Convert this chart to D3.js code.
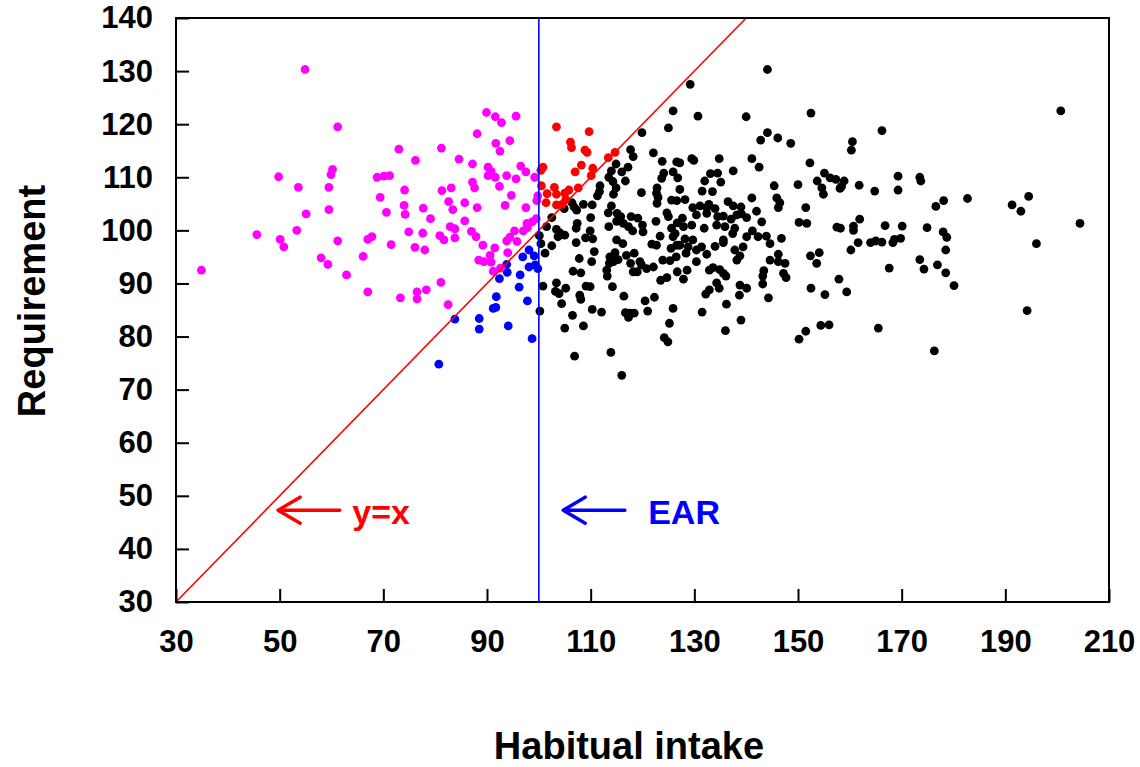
<!DOCTYPE html>
<html>
<head>
<meta charset="utf-8">
<script src="https://cdn.jsdelivr.net/npm/d3@7"></script>
<style>
  body { margin: 0; background: #fff; }
  svg { display: block; font-family: 'Liberation Sans', Arial, sans-serif; }
</style>
</head>
<body>
<svg width="1140" height="767"></svg>
<script>
// tick values
const xTicks = [30, 50, 70, 90, 110, 130, 150, 170, 190, 210];
const yTicks = [30, 40, 50, 60, 70, 80, 90, 100, 110, 120, 130, 140];

// [habitual intake, requirement]
// intake < EAR, intake < requirement
const magentaPoints = [
  [54.9,130.3],[61.2,119.5],[73.0,115.3],[76.2,113.2],[49.8,110.1],[60.2,111.5],[59.9,110.5],[53.6,108.1],
  [59.5,108.1],[68.8,110.0],[70.1,110.2],[71.2,110.3],[74.1,107.6],[69.4,106.2],[74.0,104.7],[70.6,103.4],
  [74.2,103.0],[59.5,103.9],[55.1,103.1],[45.6,99.2],[53.3,100.0],[50.1,98.3],[50.8,96.9],[61.2,98.0],
  [67.0,98.3],[67.8,98.8],[74.9,99.7],[71.5,97.3],[76.1,96.8],[58.0,94.8],[59.3,93.6],[66.1,95.1],
  [62.9,91.6],[34.9,92.5],[67.0,88.4],[73.3,87.3],[76.5,88.4],[76.5,87.1],
  [89.9,122.2],[91.6,121.4],[92.8,120.3],[95.6,121.5],[88.1,118.2],[91.7,116.4],[92.5,114.9],[94.4,116.9],
  [81.2,115.5],[84.6,113.4],[87.2,112.5],[90.2,111.9],[90.8,111.1],[90.2,110.3],[91.6,110.0],[93.8,110.3],
  [95.6,109.7],[96.5,112.1],[97.5,111.0],[99.2,110.0],[87.2,109.1],[87.6,108.0],[92.4,108.3],[81.3,107.5],
  [83.1,108.0],[94.7,106.6],[99.8,106.5],[99.6,105.6],[82.6,105.4],[85.7,105.2],[83.4,103.9],[88.1,104.3],
  [93.5,104.7],[97.5,104.3],[77.7,104.2],[79.1,102.2],[85.7,101.8],[82.9,100.7],[83.8,100.3],[87.0,99.8],
  [87.9,98.8],[83.8,98.6],[80.9,99.0],[81.7,98.2],[77.6,99.5],[78.0,96.3],[89.2,97.2],[91.5,96.7],
  [94.0,95.8],[95.8,97.9],[93.8,98.0],[94.4,98.7],[95.3,99.9],[97.0,99.9],[97.8,100.5],[97.7,101.3],
  [98.7,101.6],[99.5,102.2],[90.6,95.3],[88.4,94.4],[89.4,94.1],[90.8,94.0],[91.2,92.3],[92.6,92.9],
  [81.1,90.2],[78.3,88.8],[82.5,86.0]
];

// intake < EAR, intake > requirement
const bluePoints = [
  [98.1,96.3],[96.9,95.0],[99.1,95.2],[93.8,93.6],[93.9,92.1],[98.1,93.1],[99.3,93.5],[99.8,92.8],
  [92.4,90.9],[96.4,91.6],[96.2,89.3],[91.8,87.5],[91.7,85.5],[91.2,85.3],[97.8,86.7],[83.8,83.3],
  [88.5,83.4],[88.5,81.4],[94.1,82.0],[98.7,79.6],[80.7,74.8]
];

// intake > EAR, intake < requirement
const redPoints = [
  [103.4,119.5],[100.4,111.3],[100.8,111.9],[100.5,108.4],[101.6,106.9],[103.0,108.1],[103.4,106.8],
  [101.4,105.2],[103.4,104.8],[109.7,118.6],[106.1,116.6],[106.3,115.6],[108.9,115.1],[109.3,114.7],
  [108.2,112.3],[110.4,111.7],[107.0,111.0],[110.1,110.3],[113.4,113.7],[114.7,114.7],[105.0,107.0],
  [105.8,107.6],[107.6,108.0],[105.2,105.8],[104.5,104.9]
];

// intake > EAR, intake > requirement
const blackPoints = [
  [102.5,102.4],[101.5,100.7],[103.4,100.2],[100.1,99.0],[100.4,97.5],[103.7,98.8],[102.5,97.1],[101.2,95.7],
  [100.8,89.5],[103.4,90.1],[103.2,88.5],[103.9,88.1],[100.2,84.8],
  [125.9,122.5],[125.0,119.3],[119.9,118.4],[117.7,115.2],[118.2,113.9],[122.1,114.6],[123.8,113.0],[126.6,112.9],
  [114.9,112.5],[117.2,111.9],[114.0,111.2],[116.0,111.0],[124.1,110.8],[125.9,111.0],[113.5,110.0],[114.3,109.2],
  [116.7,109.3],[123.7,109.8],[126.8,109.9],[111.8,108.4],[114.9,108.0],[111.7,107.3],[111.3,106.5],[114.4,106.8],
  [119.8,107.1],[122.8,108.0],[122.7,107.0],[123.0,106.2],[125.6,105.7],[126.6,105.6],[122.8,105.1],[114.0,104.6],
  [106.4,105.2],[106.8,104.4],[108.6,104.9],[110.3,104.8],[104.9,104.1],[107.3,103.8],[113.4,103.3],[115.1,103.2],
  [115.8,102.6],[110.0,102.4],[115.0,101.7],[116.3,101.3],[117.8,102.6],[119.1,102.3],[120.0,101.0],[117.3,100.7],
  [118.1,99.9],[120.1,99.7],[113.5,100.7],[107.4,101.3],[107.2,100.4],[109.9,99.9],[104.1,99.5],[105.0,99.1],
  [122.6,101.7],[124.7,103.3],[125.0,102.6],[126.7,101.4],[123.4,98.9],[125.9,98.8],[109.0,98.6],[110.4,98.4],
  [107.2,97.7],[115.0,98.2],[116.2,97.5],[121.8,97.4],[122.7,97.2],[125.5,96.6],[126.6,97.2],[110.7,96.0],
  [110.2,94.1],[107.8,94.7],[113.7,95.0],[114.7,95.8],[114.4,94.1],[115.3,94.5],[113.6,93.8],[116.9,95.3],
  [118.4,95.7],[117.7,93.8],[119.5,94.1],[119.8,93.5],[120.8,92.8],[122.1,93.1],[123.9,94.4],[125.3,94.3],
  [126.5,95.0],[126.7,92.2],[113.1,92.5],[113.2,91.4],[118.2,92.2],[119.0,92.2],[106.6,92.3],[108.1,92.0],
  [124.7,91.1],[123.5,90.6],[105.2,89.1],[109.1,89.5],[109.9,89.4],[114.2,89.4],[107.9,87.8],[108.1,87.0],
  [104.4,86.2],[116.4,87.6],[120.5,86.7],[122.3,87.4],[110.3,85.1],[112.1,84.6],[106.5,84.0],[116.7,84.5],
  [117.6,84.4],[118.4,84.4],[117.3,83.6],[121.0,84.8],[125.9,85.3],[125.2,82.5],[105.0,81.6],[108.6,82.0],
  [124.2,79.8],[124.9,79.0],[106.9,76.3],[113.9,77.0],[116.0,72.7],
  [144.1,130.3],[129.2,127.5],[130.7,121.5],[140.0,121.4],[144.1,118.4],[142.8,117.0],[146.1,117.4],[148.6,116.4],
  [127.2,112.7],[129.5,113.5],[129.9,113.2],[134.8,113.5],[141.1,113.5],[142.5,111.9],[133.1,110.7],[134.5,110.8],
  [137.5,111.2],[132.0,109.3],[135.1,109.1],[127.2,107.7],[131.5,107.4],[133.5,107.3],[145.4,108.4],[150.0,108.6],
  [128.2,105.8],[136.5,105.4],[141.1,106.1],[145.9,106.1],[146.5,105.2],[146.2,104.3],[129.7,104.3],[131.1,104.6],
  [132.4,104.3],[132.8,104.9],[134.0,104.1],[137.5,104.6],[139.0,104.4],[142.0,103.6],[130.4,102.9],[132.4,103.2],
  [134.5,102.6],[135.6,102.7],[137.1,102.1],[138.2,102.9],[139.1,103.1],[140.1,102.4],[127.7,102.3],[125.6,100.4],
  [127.9,100.7],[129.5,101.0],[131.9,100.4],[134.3,101.0],[135.9,100.7],[137.8,100.4],[143.0,101.6],[126.3,99.4],
  [137.4,99.4],[141.2,99.9],[140.1,98.8],[142.3,98.8],[143.9,98.9],[150.2,101.5],[135.6,98.2],[146.8,98.5],
  [128.2,98.4],[129.7,98.2],[127.2,97.2],[128.8,96.9],[130.4,96.3],[131.4,96.9],[134.0,97.0],[135.6,97.7],
  [144.6,97.5],[128.4,95.7],[132.4,95.5],[137.8,96.3],[139.4,96.9],[138.8,95.2],[138.2,94.4],[130.4,94.1],
  [144.6,94.4],[146.2,95.5],[146.2,94.1],[147.5,93.8],[128.6,92.5],[127.9,90.8],[132.9,92.5],[133.6,93.0],
  [134.9,92.6],[135.6,91.9],[136.1,91.4],[134.3,90.1],[134.8,89.1],[132.9,88.8],[132.2,88.0],[138.8,89.7],
  [140.1,89.1],[138.7,87.8],[143.4,92.4],[143.2,91.4],[143.2,89.9],[147.2,91.9],[147.7,91.1],[144.3,87.3],
  [136.2,86.1],[131.5,84.6],[139.0,83.1],[136.0,81.1],[150.2,79.5],
  [152.5,122.1],[166.2,118.8],[160.5,116.7],[160.3,115.1],[152.3,112.7],[155.1,110.8],[156.2,109.9],[157.3,109.6],
  [153.7,109.3],[154.6,108.0],[154.9,106.8],[158.9,109.3],[158.4,108.3],[158.1,107.9],[161.8,108.5],[164.8,107.4],
  [169.3,110.2],[169.3,107.6],[173.5,110.0],[173.7,109.3],[151.5,104.3],[151.7,101.3],[157.5,100.6],[158.2,100.4],
  [160.7,100.8],[160.7,100.0],[161.9,102.1],[166.8,100.9],[170.1,100.8],[174.9,100.5],[176.6,104.5],[178.1,105.6],
  [178.0,99.7],[178.7,98.7],[161.6,97.7],[164.0,97.7],[165.0,98.0],[166.2,97.8],[168.3,97.7],[168.6,98.3],
  [169.8,98.5],[160.2,96.3],[178.5,96.3],[152.4,95.2],[154.1,95.8],[153.6,93.8],[167.6,92.9],[173.5,94.5],
  [174.3,92.7],[176.9,93.5],[178.5,92.0],[180.1,89.6],[157.9,90.8],[152.5,89.1],[155.2,87.9],[159.4,88.4],
  [154.4,82.1],[156.0,82.2],[151.5,81.0],[165.5,81.6],[176.3,77.3],
  [200.7,122.5],[182.7,106.0],[191.3,104.8],[194.5,106.4],[193.0,103.6],[204.4,101.3],[196.0,97.5],[194.2,84.9]
];

const ear = 100;

(function (d3) {
  'use strict';

  const svg = d3.select('svg');
  const width = +svg.attr('width');
  const height = +svg.attr('height');

  const font = "'Liberation Sans', Arial, sans-serif";

  const render = () => {
    const margin = { top: 18, right: 31, bottom: 165, left: 176 };
    const innerWidth = width - margin.left - margin.right;
    const innerHeight = height - margin.top - margin.bottom;

    const xScale = d3.scaleLinear()
      .domain([30, 210])
      .range([0, innerWidth]);

    const yScale = d3.scaleLinear()
      .domain([30, 140])
      .range([innerHeight, 0]);

    svg.append('rect')
      .attr('width', width)
      .attr('height', height)
      .attr('fill', '#fff');

    const g = svg.append('g')
      .attr('transform', `translate(${margin.left},${margin.top})`);

    // ticks point inward
    const xAxis = d3.axisBottom(xScale)
      .tickValues(xTicks)
      .tickSizeInner(-13)
      .tickSizeOuter(0)
      .tickPadding(28);

    const yAxis = d3.axisLeft(yScale)
      .tickValues(yTicks)
      .tickSizeInner(-13)
      .tickSizeOuter(0)
      .tickPadding(23);

    const styleAxis = sel => {
      sel.attr('font-family', font)
        .attr('font-size', 31)
        .attr('font-weight', 'bold');
      sel.selectAll('line').attr('stroke-width', 2);
      sel.selectAll('.domain').remove();
      sel.selectAll('text').attr('fill', '#000');
    };

    g.append('g')
      .attr('transform', `translate(0,${innerHeight})`)
      .call(xAxis)
      .call(styleAxis);

    g.append('g')
      .call(yAxis)
      .call(styleAxis);

    // points
    const groups = [
      { pts: blackPoints, color: '#000000' },
      { pts: redPoints, color: '#ff0000' },
      { pts: bluePoints, color: '#0000ff' },
      { pts: magentaPoints, color: '#ff00ff' }
    ];
    groups.forEach(grp => {
      g.append('g').selectAll('circle').data(grp.pts)
        .enter().append('circle')
          .attr('cx', d => xScale(d[0]))
          .attr('cy', d => yScale(d[1]))
          .attr('r', 4.4)
          .attr('fill', grp.color);
    });

    // y = x line
    g.append('line')
      .attr('x1', xScale(30)).attr('y1', yScale(30))
      .attr('x2', xScale(140)).attr('y2', yScale(140))
      .attr('stroke', '#ff0000')
      .attr('stroke-width', 1.6);

    // EAR line
    g.append('line')
      .attr('x1', xScale(ear)).attr('y1', yScale(30))
      .attr('x2', xScale(ear)).attr('y2', yScale(140))
      .attr('stroke', '#0000ff')
      .attr('stroke-width', 1.6);

    // frame
    g.append('rect')
      .attr('width', innerWidth)
      .attr('height', innerHeight)
      .attr('fill', 'none')
      .attr('stroke', '#000')
      .attr('stroke-width', 2);

    // arrows + labels
    const notes = [
      { label: 'y=x', color: '#ff0000', tip: 49.7, tail: 61.6, textX: 64.0, y: 47.3 },
      { label: 'EAR', color: '#0000ff', tip: 104.7, tail: 116.6, textX: 121.1, y: 47.3 }
    ];
    notes.forEach(n => {
      const tx = xScale(n.tip);
      const ty = yScale(n.y);
      g.append('path')
        .attr('d', `M${tx},${ty}L${xScale(n.tail)},${ty}M${tx + 22},${ty - 13}L${tx},${ty}L${tx + 22},${ty + 13}`)
        .attr('fill', 'none')
        .attr('stroke', n.color)
        .attr('stroke-width', 3.5)
        .attr('stroke-linecap', 'round')
        .attr('stroke-linejoin', 'round');
      g.append('text')
        .attr('x', xScale(n.textX))
        .attr('y', ty + 14)
        .attr('fill', n.color)
        .attr('font-family', font)
        .attr('font-size', 34)
        .attr('font-weight', 'bold')
        .text(n.label);
    });

    // axis labels
    svg.append('text')
      .attr('x', 629)
      .attr('y', 759)
      .attr('text-anchor', 'middle')
      .attr('font-family', font)
      .attr('font-size', 38)
      .attr('font-weight', 'bold')
      .text('Habitual intake');

    svg.append('text')
      .attr('transform', 'translate(45,301) rotate(-90)')
      .attr('text-anchor', 'middle')
      .attr('font-family', font)
      .attr('font-size', 38)
      .attr('font-weight', 'bold')
      .text('Requirement');
  };

  render();

}(d3));
</script>
</body>
</html>
